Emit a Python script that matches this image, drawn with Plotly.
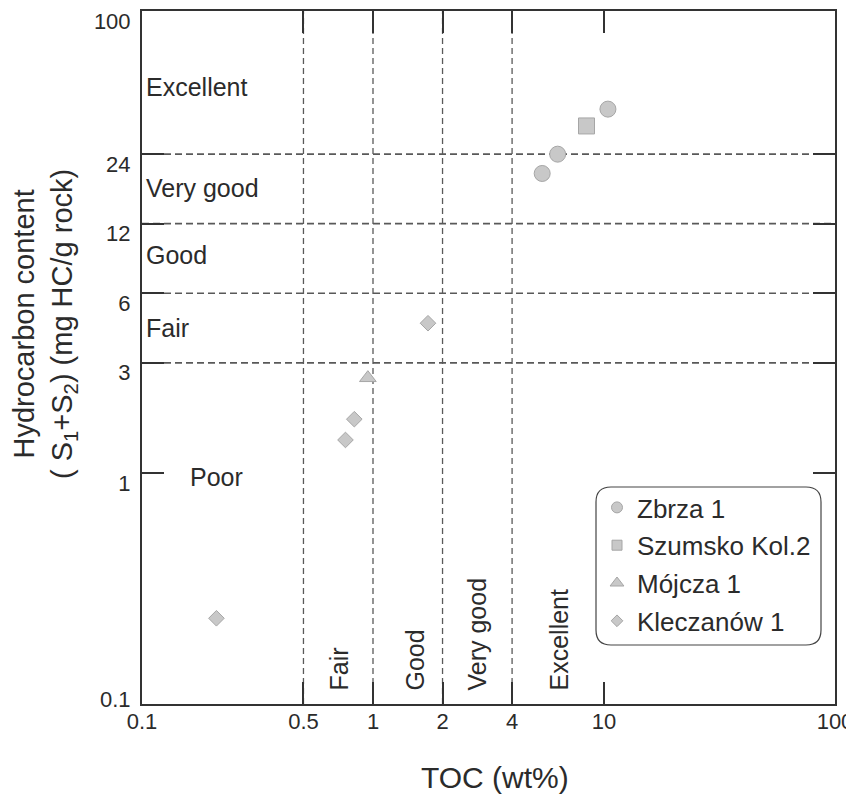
import plotly.graph_objects as go

# ---------------- data ----------------
zbrza_toc = [5.4, 6.3, 10.4]
zbrza_hc = [19.8, 24.0, 37.6]
szumsko_toc = [8.4]
szumsko_hc = [31.8]
mojcza_toc = [0.95]
mojcza_hc = [2.58]
kleczanow_toc = [0.21, 0.76, 0.83, 1.73]
kleczanow_hc = [0.235, 1.39, 1.71, 4.45]

series_names = ["Zbrza 1", "Szumsko Kol.2", "Mójcza 1", "Kleczanów 1"]

x_tickvals = [0.1, 0.5, 1, 2, 4, 10, 100]
x_ticktext = ["0.1", "0.5", "1", "2", "4", "10", "100"]
y_tickvals = [0.1, 1, 3, 6, 12, 24, 100]
# the bottom label sits above its tick in the reference (blank 2nd line lifts it)
y_ticktext = ["0.1<br> ", "1", "3", "6", "12", "24", "100"]

toc_class_bounds = [0.5, 1, 2, 4]
hc_class_bounds = [3, 6, 12, 24]
hc_class_labels = ["Excellent", "Very good", "Good", "Fair", "Poor"]
toc_class_labels = ["Fair", "Good", "Very good", "Excellent"]

# ---------------- layout geometry ----------------
# screen-space plot box (the page body adds an 8 px offset)
OFF = 8
L, R, T, B = 142, 835, 11, 704
PW, PH = R - L, B - T
W, H = 854 - OFF, 796 - OFF


def px(xp):
    return (xp - L) / PW


def py(yp):
    return (B - yp) / PH


FONT = "Liberation Sans, Arial, sans-serif"
INK = "#2b2b2b"
FILL = "#c8c8c8"
EDGE = "#a6a6a6"
DASH = "#595959"

fig = go.Figure()

marker_specs = [
    ("circle", 16, zbrza_toc, zbrza_hc, 11),
    ("square", 16, szumsko_toc, szumsko_hc, 10),
    ("triangle-up", 14.5, mojcza_toc, mojcza_hc, 12),
    ("diamond", 12, kleczanow_toc, kleczanow_hc, 9),
]

for name, (sym, size, xs, ys, lsize) in zip(series_names, marker_specs):
    fig.add_trace(go.Scatter(
        x=xs, y=ys, mode="markers", name=name, showlegend=False,
        marker=dict(symbol=sym, size=size, color=FILL,
                    line=dict(color=EDGE, width=1)),
        hoverinfo="x+y+name",
    ))
    # legend entry (smaller symbols as in the reference)
    fig.add_trace(go.Scatter(
        x=[None], y=[None], mode="markers", name=name, legendgroup=name,
        marker=dict(symbol=sym, size=lsize, color=FILL,
                    line=dict(color=EDGE, width=1)),
    ))

shapes = []
for v in toc_class_bounds:
    shapes.append(dict(type="line", xref="x", yref="paper", x0=v, x1=v, y0=0, y1=1,
                       line=dict(color=DASH, width=1.3, dash="6px,4px"), layer="below"))
for v in hc_class_bounds:
    shapes.append(dict(type="line", xref="paper", yref="y", x0=0, x1=1, y0=v, y1=v,
                       line=dict(color=DASH, width=1.7, dash="7px,4px"), layer="below"))

# rounded legend box
bx0, bx1, by0, by1, rr = px(596), px(821), py(487), py(645), 15 / PW
path = (f"M {bx0+rr},{by0} L {bx1-rr},{by0} Q {bx1},{by0} {bx1},{by0-rr} "
        f"L {bx1},{by1+rr} Q {bx1},{by1} {bx1-rr},{by1} "
        f"L {bx0+rr},{by1} Q {bx0},{by1} {bx0},{by1+rr} "
        f"L {bx0},{by0-rr} Q {bx0},{by0} {bx0+rr},{by0} Z")
shapes.append(dict(type="path", xref="paper", yref="paper", path=path,
                   line=dict(color="#444444", width=1.2), fillcolor="rgba(0,0,0,0)"))

annotations = []
hc_label_pos = [(144, 87), (144, 188), (144, 255), (144, 328), (188, 477)]
for txt, (xp, yp) in zip(hc_class_labels, hc_label_pos):
    annotations.append(dict(text=txt, xref="paper", yref="paper", x=px(xp), y=py(yp),
                            xanchor="left", yanchor="middle", showarrow=False,
                            font=dict(family=FONT, size=25, color=INK)))
toc_label_x = [338, 414, 476, 558]
for txt, xp in zip(toc_class_labels, toc_label_x):
    annotations.append(dict(text=txt, xref="paper", yref="paper", x=px(xp), y=py(692),
                            xanchor="center", yanchor="bottom", textangle=-90,
                            showarrow=False, borderpad=0,
                            font=dict(family=FONT, size=25, color=INK)))

annotations.append(dict(text="TOC (wt%)", xref="paper", yref="paper", x=px(495), y=py(777),
                        xanchor="center", yanchor="middle", showarrow=False,
                        font=dict(family=FONT, size=30, color=INK)))
annotations.append(dict(text="Hydrocarbon content<br>( S<sub>1</sub>+S<sub>2</sub>) (mg HC/g rock)",
                        xref="paper", yref="paper", x=px(45), y=py(324),
                        xanchor="center", yanchor="middle", textangle=-90, showarrow=False,
                        font=dict(family=FONT, size=29, color=INK)))

axis_common = dict(
    type="log", range=[-1, 2], showgrid=False, zeroline=False, automargin=False,
    showline=True, linecolor="#333333", linewidth=2, mirror="ticks",
    ticks="inside", ticklen=22, tickwidth=2, tickcolor="#333333",
    tickfont=dict(family=FONT, size=22, color=INK), ticklabeloverflow="allow",
)

fig.update_layout(
    width=W, height=H,
    margin=dict(l=L - OFF, r=W - (R - OFF), t=T - OFF, b=H - (B - OFF), autoexpand=False),
    paper_bgcolor="white", plot_bgcolor="white",
    xaxis=dict(**axis_common, tickmode="array", tickvals=x_tickvals, ticktext=x_ticktext,
               ticklabelstandoff=-3),
    yaxis=dict(**axis_common, tickmode="array", tickvals=y_tickvals, ticktext=y_ticktext,
               ticklabelshift=10, ticklabelstandoff=5),
    shapes=shapes,
    annotations=annotations,
    showlegend=True,
    legend=dict(x=px(597), y=py(484), xanchor="left", yanchor="top",
                bgcolor="rgba(0,0,0,0)", borderwidth=0, traceorder="grouped",
                tracegroupgap=1, font=dict(family=FONT, size=26, color=INK)),
    font=dict(family=FONT, color=INK),
)

fig.write_html("out.html")
